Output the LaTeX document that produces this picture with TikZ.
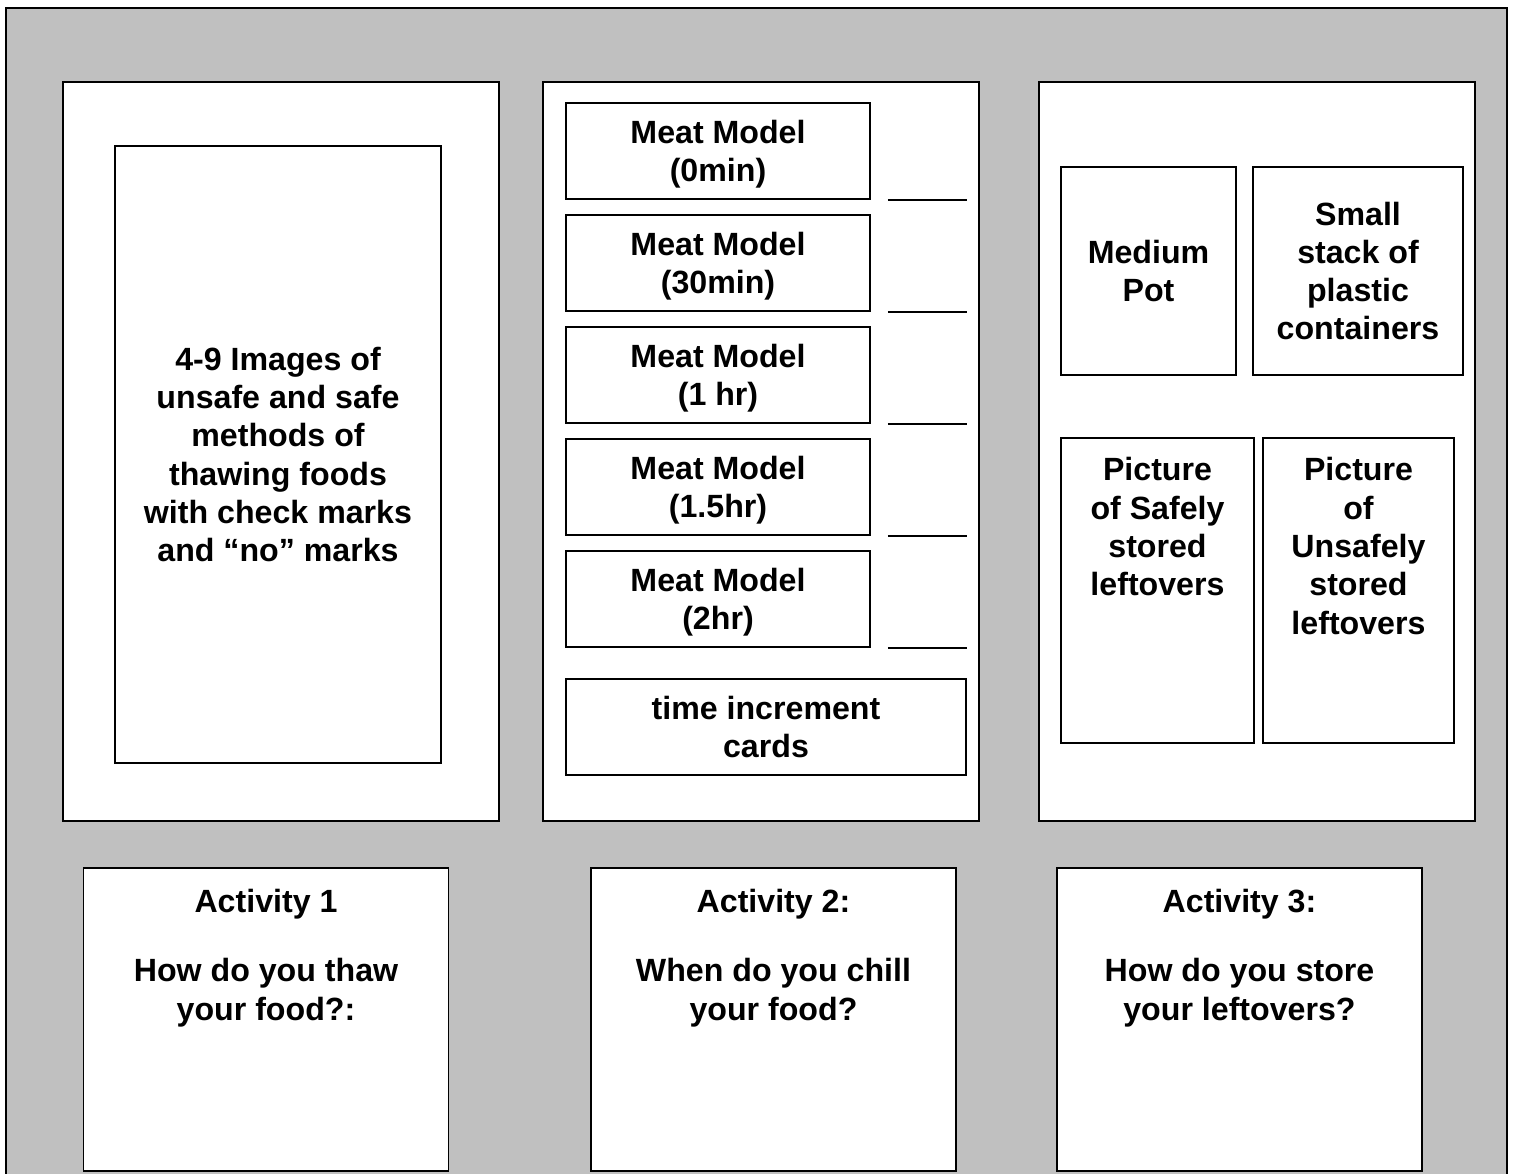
\documentclass[tikz,border=0pt]{standalone}
\usepackage{fontspec}
\setmainfont{Liberation Sans}
\usetikzlibrary{positioning}
\definecolor{boardgray}{HTML}{C0C0C0}

\begin{document}
\begin{tikzpicture}[x=0.02cm, y=-0.02cm]
        \tikzset{
            card/.style 2 args={
                draw=black, line width=1.1pt, fill=white,
                minimum width=#1*0.02cm, minimum height=#2*0.02cm,
                inner sep=0pt
            },
            card text/.style={
                font=\bfseries\fontsize{18.3}{21.8}\selectfont,
                align=center, inner sep=0pt
            },
        }

        \useasboundingbox (0,0) rectangle (1516,1174);
        \clip (0,0) rectangle (1516,1174);

        % board
        \draw[fill=boardgray, line width=1.6pt] (6,8) rectangle (1507,1200);

        % three table panels
        \foreach \x/\name in {281/thaw, 761/chill, 1257/store} {
            \node[card={436}{739}] (\name) at (\x,451.5) { };
        }

        % activity 1: thawing
        \node[card={326}{617}, card text] (images) at (278,454.5)
            {4-9 Images of\\unsafe and safe\\methods of\\thawing foods\\with check marks\\and ``no'' marks};

        % activity 2: meat models with blanks
        \foreach \y/\t [count=\i] in {151/0min, 263/30min, 375/1 hr, 487/1.5hr, 599/2hr} {
            \node[card={304}{96}, card text, text depth=0pt] (meat\i) at (718,\y) {Meat Model\\(\t)};
            \draw[line width=1.1pt] (meat\i.south east) ++(17,0) -- ++(79,0);
        }
        \node[card={400}{96}, card text] (cards) at (766,727) {time increment\\cards};

        % activity 3: storing
        \node[card={175}{208}, card text] (pot) at (1148.5,271) {Medium\\Pot};
        \node[card={210}{208}, card text] (stack) at (1358,271) {Small\\stack of\\plastic\\containers};
        \node[card={193}{305}] (safe) at (1157.5,590.5) { };
        \node[card={191}{305}] (unsafe) at (1358.5,590.5) { };
        \node[card text, below=11.5pt of safe.north] (safe text) {Picture\\of Safely\\stored\\leftovers};
        \node[card text, below=11.5pt of unsafe.north] (unsafe text) {Picture\\of\\Unsafely\\stored\\leftovers};

        % activity signs
        \foreach \x/\name in {266/act1, 773.5/act2, 1239.5/act3} {
            \node[card={365}{303}] (\name) at (\x,1019.5) { };
        }
        \node[card text, below=12.5pt of act1.north] (act1 text) {Activity 1\\[17.5pt]How do you thaw\\your food?:};
        \node[card text, below=12.5pt of act2.north] (act2 text) {Activity 2:\\[17.5pt]When do you chill\\your food?};
        \node[card text, below=12.5pt of act3.north] (act3 text) {Activity 3:\\[17.5pt]How do you store\\your leftovers?};
    \end{tikzpicture}
\end{document}
